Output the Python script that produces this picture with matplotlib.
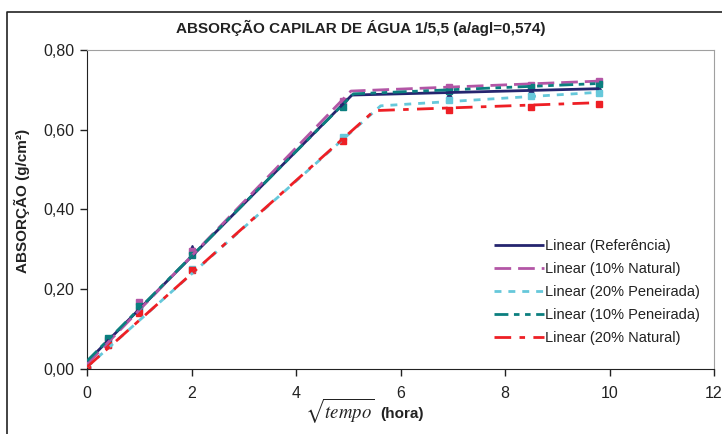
import matplotlib
matplotlib.use('Agg')
import matplotlib.pyplot as plt
from matplotlib.lines import Line2D
from matplotlib.ticker import FuncFormatter, MultipleLocator

plt.rcParams['font.family'] = ['Liberation Sans', 'DejaVu Sans']
plt.rcParams['mathtext.fontset'] = 'stix'

# measured points: sqrt(tempo) in hours vs absorption (g/cm2)
x_pts = [0.0, 0.41, 1.0, 2.0, 4.9, 6.93, 8.49, 9.8]
y_ref = [0.0, 0.070, 0.155, 0.303, 0.662, 0.688, 0.696, 0.703]
y_10nat = [0.0, 0.072, 0.168, 0.296, 0.672, 0.707, 0.712, 0.722]
y_20pen = [0.0, 0.060, 0.150, 0.250, 0.583, 0.674, 0.685, 0.692]
y_10pen = [0.0, 0.077, 0.158, 0.285, 0.656, 0.698, 0.707, 0.714]
y_20nat = [0.0, 0.060, 0.140, 0.248, 0.571, 0.650, 0.657, 0.664]

# two-segment trendlines (start, break, end)
tx_ref, ty_ref = [0.0, 5.07, 9.8], [0.018, 0.687, 0.703]
tx_10nat, ty_10nat = [0.0, 5.05, 9.8], [0.012, 0.697, 0.722]
tx_20pen, ty_20pen = [0.0, 5.62, 9.8], [0.005, 0.660, 0.694]
tx_10pen, ty_10pen = [0.0, 5.10, 9.8], [0.020, 0.690, 0.716]
tx_20nat, ty_20nat = [0.0, 5.50, 9.8], [0.005, 0.648, 0.668]

labels = ['Linear (Referência)', 'Linear (10% Natural)', 'Linear (20% Peneirada)',
          'Linear (10% Peneirada)', 'Linear (20% Natural)']

series = [
    (x_pts, y_ref, tx_ref, ty_ref, '#25256f', '-', '^'),
    (x_pts, y_10nat, tx_10nat, ty_10nat, '#b356a6', (0, (6, 2.5)), 's'),
    (x_pts, y_20pen, tx_20pen, ty_20pen, '#66c8da', (0, (2.5, 2.5)), 's'),
    (x_pts, y_10pen, tx_10pen, ty_10pen, '#0b7f7f', (0, (5, 2, 2, 2, 2, 2)), 's'),
    (x_pts, y_20nat, tx_20nat, ty_20nat, '#ee1f25', (0, (6, 3, 2, 3)), 's'),
]

fig = plt.figure(figsize=(7.22, 4.34), dpi=100)
ax = fig.add_axes([0.1205, 0.1498, 0.8685, 0.735])

handles = []
for (xp, yp, tx, ty, col, ls, mk), lab in zip(series, labels):
    ax.plot(xp, yp, linestyle='none', marker=mk, markersize=5, color=col,
            markeredgecolor=col, zorder=2)
    h, = ax.plot(tx, ty, linestyle=ls, color=col, linewidth=2.0, zorder=3,
                 label=lab, solid_capstyle='butt', dash_capstyle='butt')
    handles.append(h)

ax.set_xlim(0, 12)
ax.set_ylim(0, 0.8)
ax.xaxis.set_major_locator(MultipleLocator(2))
ax.yaxis.set_major_locator(MultipleLocator(0.2))
ax.yaxis.set_major_formatter(FuncFormatter(lambda v, p: '{:.2f}'.format(v).replace('.', ',')))
ax.tick_params(direction='out', length=5, width=1, labelsize=11.5, colors='#222222', pad=4)
ax.tick_params(axis='x', pad=7)
for side in ['top', 'right']:
    ax.spines[side].set_color('#a0a0a0')
for side in ['left', 'bottom']:
    ax.spines[side].set_color('#222222')

fig.text(0.5, 1 - 28 / 434, 'ABSORÇÃO CAPILAR DE ÁGUA 1/5,5 (a/agl=0,574)', fontsize=11,
         fontweight='bold', color='#222222', ha='center', va='center')
ax.set_ylabel('ABSORÇÃO (g/cm²)', fontsize=11, fontweight='bold', color='#222222')
ax.yaxis.set_label_coords(-0.091, 0.527)

fig.text(0.422, 0.037, r'$\sqrt{tempo}$', fontsize=13.5, ha='left', va='baseline',
         color='#222222')
fig.text(0.527, 0.037, '(hora)', fontsize=11, fontweight='bold', ha='left',
         va='baseline', color='#222222')

leg = ax.legend(handles=handles, loc='upper left', bbox_to_anchor=(0.64, 0.425),
                frameon=False, fontsize=10.5, handlelength=3.4, handletextpad=0.12,
                labelspacing=0.62, borderaxespad=0)
for t in leg.get_texts():
    t.set_color('#222222')

# outer chart frame
fig.add_artist(Line2D([7 / 722, 7 / 722, 1.0], [0.0, 1 - 12 / 434, 1 - 12 / 434],
                      transform=fig.transFigure, color='#222222', linewidth=1.2))

fig.savefig('out.png', dpi=100)
